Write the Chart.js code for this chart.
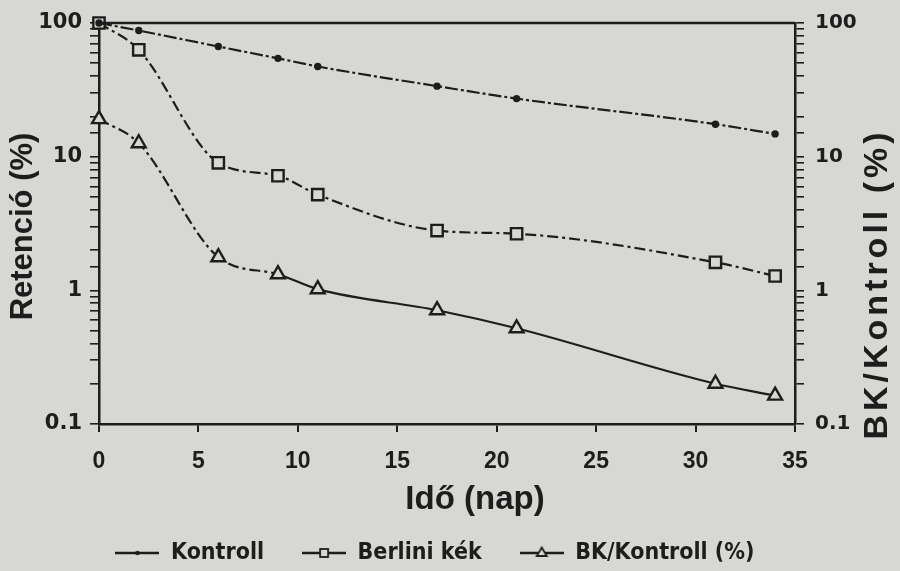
<!DOCTYPE html>
<html>
<head>
<meta charset="utf-8">
<script src="https://cdn.jsdelivr.net/npm/chart.js@4/dist/chart.umd.min.js"></script>
<style>
  html, body { margin: 0; padding: 0; background: #d7d7d4; }
  #wrap { width: 900px; height: 571px; }
</style>
</head>
<body>
<div id="wrap"><canvas id="retencio-chart" width="900" height="571"></canvas></div>
<script>
// values (days, % retention)
var days = [0, 2, 6, 9, 11, 17, 21, 31, 34];
var kontroll = [100, 87.8, 66.7, 54.4, 47.3, 33.7, 27.2, 17.5, 14.8];
var berliniKek = [100, 63, 9.0, 7.2, 5.2, 2.8, 2.65, 1.62, 1.28];
var bkKontroll = [19.1, 12.6, 1.77, 1.32, 1.02, 0.71, 0.52, 0.20, 0.163];

var seriesNames = ["Kontroll", "Berlini kék", "BK/Kontroll (%)"];
var xTicks = [0, 5, 10, 15, 20, 25, 30, 35];
var yTickLabels = [0.1, 1, 10, 100];
var xTitle = "Idő (nap)";
var yTitle = "Retenció (%)";
var y2Title = "BK/Kontroll (%)";

var ink = "#1d1d1d";
var paper = "#d7d7d4";

function toPoints(ys) {
  return days.map(function (d, i) {
    return { x: d, y: ys[i] };
  });
}

// small line+marker icons for the legend
function legendIcon(kind) {
  var c = document.createElement("canvas");
  c.width = 44;
  c.height = 16;
  var g = c.getContext("2d");
  g.strokeStyle = ink;
  g.fillStyle = paper;
  g.lineWidth = 2.4;
  g.beginPath();
  g.moveTo(0, 8);
  g.lineTo(44, 8);
  g.stroke();
  g.lineWidth = 1.8;
  if (kind == "dot") {
    g.fillStyle = ink;
    g.beginPath();
    g.arc(22, 8, 2.2, 0, Math.PI * 2);
    g.fill();
  } else if (kind == "rect") {
    g.fillRect(18, 4, 8, 8);
    g.strokeRect(18, 4, 8, 8);
  } else {
    g.beginPath();
    g.moveTo(22, 2.5);
    g.lineTo(27, 11);
    g.lineTo(17, 11);
    g.closePath();
    g.fill();
    g.stroke();
  }
  return c;
}
var legendIcons = [legendIcon("dot"), legendIcon("rect"), legendIcon("tri")];

function isDecade(v) {
  return yTickLabels.some(function (t) {
    return Math.abs(t - v) < 1e-9;
  });
}

var axisTitles = {
  id: "axisTitles",
  afterDraw: function (chart) {
    var ctx = chart.ctx;
    var a = chart.chartArea;
    ctx.save();
    // frame top line
    ctx.strokeStyle = ink;
    ctx.lineWidth = 2.5;
    ctx.beginPath();
    ctx.moveTo(a.left, a.top);
    ctx.lineTo(a.right, a.top);
    ctx.stroke();

    ctx.fillStyle = ink;
    ctx.textAlign = "center";
    ctx.textBaseline = "middle";

    ctx.font = 'bold 31px "Liberation Sans", Arial, sans-serif';
    ctx.save();
    ctx.translate(a.left - 76, (a.top + a.bottom) / 2 + 3);
    ctx.rotate(-Math.PI / 2);
    ctx.fillText(yTitle, 0, 0);
    ctx.restore();

    ctx.font = 'bold 34px "Liberation Sans", Arial, sans-serif';
    ctx.letterSpacing = "4px";
    ctx.save();
    ctx.translate(a.right + 83, 284);
    ctx.rotate(-Math.PI / 2);
    ctx.fillText(y2Title, 0, 0);
    ctx.restore();
    ctx.letterSpacing = "0px";

    ctx.font = 'bold 33px "Liberation Sans", Arial, sans-serif';
    ctx.fillText(xTitle, (a.left + a.right) / 2 + 28, a.bottom + 76);
    ctx.restore();
  },
};

var logAxis = function (pos, w, labelFont) {
  return {
    type: "logarithmic",
    position: pos,
    min: 0.1,
    max: 100,
    afterFit: function (s) {
      s.width = w;
    },
    border: { display: true, color: ink, width: 2.5 },
    grid: {
      drawOnChartArea: false,
      drawTicks: true,
      tickLength: 9,
      color: ink,
      lineWidth: 1.6,
    },
    ticks: {
      autoSkip: false,
      color: ink,
      padding: pos == "left" ? 8 : 11,
      font: labelFont,
      callback: function (v) {
        return isDecade(v) ? String(v) : "";
      },
    },
  };
};

var dashed = [11, 4, 3, 4];

var retencioChart = new Chart(document.getElementById("retencio-chart"), {
  type: "line",
  data: {
    datasets: [
      {
        label: seriesNames[0],
        data: toPoints(kontroll),
        yAxisID: "y",
        borderColor: ink,
        borderWidth: 2.2,
        borderDash: [13, 3, 3, 3],
        pointStyle: "circle",
        pointRadius: 2.6,
        pointBackgroundColor: ink,
        pointBorderColor: ink,
        cubicInterpolationMode: "monotone",
        clip: false,
      },
      {
        label: seriesNames[1],
        data: toPoints(berliniKek),
        yAxisID: "y",
        borderColor: ink,
        borderWidth: 2.2,
        borderDash: dashed,
        pointStyle: "rect",
        pointRadius: 8,
        pointBorderWidth: 2.4,
        pointBackgroundColor: paper,
        pointBorderColor: ink,
        cubicInterpolationMode: "monotone",
        clip: false,
      },
      {
        label: seriesNames[2],
        data: toPoints(bkKontroll),
        yAxisID: "y2",
        borderColor: ink,
        borderWidth: 2.2,
        segment: {
          borderDash: function (ctx) {
            return ctx.p0.parsed.x < 9 ? dashed : [];
          },
        },
        pointStyle: "triangle",
        pointRadius: 8,
        pointBorderWidth: 2.4,
        pointBackgroundColor: paper,
        pointBorderColor: ink,
        cubicInterpolationMode: "monotone",
        clip: false,
      },
    ],
  },
  options: {
    responsive: false,
    animation: false,
    layout: { padding: { top: 15, left: 0, right: 30, bottom: 0 } },
    scales: {
      x: {
        type: "linear",
        min: xTicks[0],
        max: xTicks[xTicks.length - 1],
        afterFit: function (s) {
          s.height = 79.5;
        },
        afterBuildTicks: function (s) {
          s.ticks = xTicks.map(function (v) {
            return { value: v };
          });
        },
        border: { display: true, color: ink, width: 2.5 },
        grid: {
          drawOnChartArea: false,
          drawTicks: true,
          tickLength: 8,
          color: ink,
          lineWidth: 2,
        },
        ticks: {
          color: ink,
          padding: 16,
          maxRotation: 0,
          font: { family: '"Liberation Sans", Arial, sans-serif', size: 23, weight: "bold" },
        },
      },
      y: logAxis("left", 99, { family: '"DejaVu Sans", sans-serif', size: 21, weight: "bold" }),
      y2: logAxis("right", 75, { family: '"DejaVu Sans", sans-serif', size: 20, weight: "bold" }),
    },
    plugins: {
      tooltip: { enabled: false },
      legend: {
        position: "bottom",
        maxHeight: 67.5,
        labels: {
          usePointStyle: true,
          pointStyleWidth: 44,
          padding: 38,
          color: ink,
          font: {
            family: '"DejaVu Sans Condensed", "DejaVu Sans", sans-serif',
            size: 23,
            weight: "bold",
          },
          generateLabels: function (chart) {
            var items = Chart.defaults.plugins.legend.labels.generateLabels(chart);
            items.forEach(function (it, i) {
              it.pointStyle = legendIcons[i];
              it.fontColor = ink;
            });
            return items;
          },
        },
      },
    },
  },
  plugins: [axisTitles],
});
</script>
</body>
</html>
